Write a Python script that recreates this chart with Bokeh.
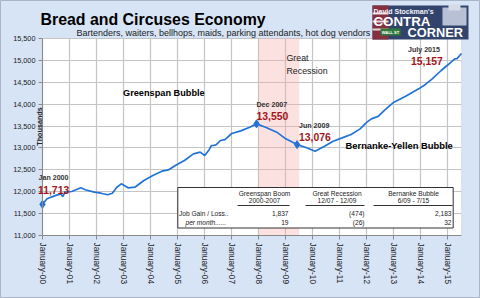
import math
from bokeh.plotting import figure
from bokeh.models import Range1d, FixedTicker, NumeralTickFormatter, Label, BoxAnnotation
from bokeh.embed import file_html
from bokeh.resources import INLINE

# ---------------- data ----------------
dates = ["2000-01", "2000-03", "2000-06", "2000-09", "2000-10", "2000-11", "2001-02", "2001-06",
         "2001-08", "2001-12", "2002-03", "2002-06", "2002-08", "2002-10", "2002-12", "2003-03",
         "2003-06", "2003-10", "2004-02", "2004-06", "2004-09", "2004-12", "2005-04", "2005-08",
         "2005-11", "2006-01", "2006-03", "2006-04", "2006-05", "2006-06", "2006-08", "2006-10",
         "2007-01", "2007-05", "2007-09", "2007-12", "2008-04", "2008-09", "2009-01", "2009-06",
         "2009-10", "2010-02", "2010-06", "2010-10", "2011-02", "2011-06", "2011-10", "2012-01",
         "2012-03", "2012-06", "2012-09", "2013-01", "2013-06", "2013-12", "2014-03", "2014-06",
         "2014-10", "2015-01", "2015-04", "2015-05", "2015-07"]
jobs = [11713, 11838, 11900, 11952, 11890, 11990, 12005, 12090,
        12044, 11990, 11966, 11930, 11966, 12103, 12180, 12090,
        12103, 12256, 12370, 12469, 12500, 12599, 12713, 12866,
        12903, 12827, 12960, 13056, 13060, 13070, 13170, 13190,
        13330, 13390, 13474, 13550, 13474, 13360, 13208, 13076,
        13010, 12926, 13033, 13154, 13230, 13307, 13436, 13590,
        13665, 13720, 13870, 14045, 14175, 14350, 14450, 14578,
        14769, 14900, 15036, 15040, 15157]

year_ticks = [2000, 2001, 2002, 2003, 2004, 2005, 2006, 2007,
              2008, 2009, 2010, 2011, 2012, 2013, 2014, 2015]
tick_labels = ["January-00", "January-01", "January-02", "January-03", "January-04",
               "January-05", "January-06", "January-07", "January-08", "January-09",
               "January-10", "January-11", "January-12", "January-13", "January-14",
               "January-15"]

recession = ("2008-01", "2009-07")

callout_dates = ["2000-01", "2007-12", "2009-06", "2015-07"]
callout_names = ["Jan 2000", "Dec 2007", "Jun 2009", "July 2015"]
callout_values = ["11,713", "13,550", "13,076", "15,157"]

table_cols = ["Greenspan Boom", "Great Recession", "Bernanke Bubble"]
table_periods = ["2000-2007", "12/07 - 12/09", "6/09 - 7/15"]
table_rows = ["Job Gain / Loss..", "per month......"]
job_gain = ["1,837", "(474)", "2,183"]
per_month = ["19", "(26)", "32"]


def month_index(s):
    y, m = s.split("-")
    return (int(y) - 2000) * 12 + int(m) - 1


ms = [month_index(d) for d in dates]
X_MAX = month_index("2015-07")

# ---------------- geometry (plot area inside a full-canvas frame) ----------------
W, H = 480, 298
FL, FT, FR, FB = 42, 38, 461, 235
FW, FH = FR - FL, FB - FT
Y0, Y1 = 11000, 15500


def X(px):
    return (px - FL) * X_MAX / FW


def Y(py):
    return Y1 - (py - FT) * (Y1 - Y0) / FH


BG = "#d7e4f6"
GRID = "#c4c4c4"
p = figure(width=W, height=H, output_backend="svg", toolbar_location=None,
           x_range=Range1d(X(0), X(W)), y_range=Range1d(Y(H), Y(0)),
           min_border_left=0, min_border_right=0, min_border_top=0, min_border_bottom=0)
p.background_fill_color = BG
p.border_fill_color = BG
p.outline_line_color = "#a9b5c6"

FONT = "Liberation Sans"

# white plot area, drawn beneath the grid
p.add_layout(BoxAnnotation(left=0, right=X_MAX, bottom=Y0, top=Y1, level="image",
                           fill_color="white", fill_alpha=1,
                           line_color=GRID, line_width=1.2))

# axes pinned at the plot-area edges
p.xaxis.fixed_location = Y0
p.yaxis.fixed_location = 0
p.xaxis.bounds = (0, X_MAX)
p.yaxis.bounds = (Y0, Y1)
p.xaxis.ticker = FixedTicker(ticks=[(y - 2000) * 12 for y in year_ticks])
p.xaxis.major_label_overrides = {(y - 2000) * 12: t for y, t in zip(year_ticks, tick_labels)}
p.xaxis.major_label_orientation = -math.pi / 2
p.yaxis.ticker = FixedTicker(ticks=list(range(Y0, Y1 + 1, 500)))
p.yaxis.formatter = NumeralTickFormatter(format="0,0")
for ax in (p.xaxis, p.yaxis):
    ax.axis_line_color = "#8a8a8a"
    ax.major_tick_line_color = "#8a8a8a"
    ax.major_tick_out = 4
    ax.major_tick_in = 0
    ax.minor_tick_line_color = None
    ax.major_label_text_font = FONT
    ax.major_label_text_color = "#222222"
    ax.major_label_standoff = 3
p.xaxis.major_label_text_font_size = "8.3px"
p.yaxis.major_label_text_font_size = "7.3px"

p.xgrid.ticker = p.xaxis.ticker
p.ygrid.ticker = p.yaxis.ticker
p.xgrid.bounds = (0, X_MAX)
p.ygrid.bounds = (Y0, Y1)
p.xgrid.cross_bounds = (Y0, Y1)
p.ygrid.cross_bounds = (0, X_MAX)
p.grid.grid_line_color = GRID
p.grid.grid_line_width = 1.2

# recession band
p.quad(left=[month_index(recession[0])], right=[month_index(recession[1])],
       bottom=[Y0], top=[Y1], fill_color="#f8b0b0", fill_alpha=0.38, line_color=None)

# series
BLUE = "#2273d6"
p.line(ms, jobs, line_color=BLUE, line_width=1.7)
mk_x = [month_index(d) for d in callout_dates[:3]]
mk_y = [jobs[dates.index(d)] for d in callout_dates[:3]]
p.scatter(mk_x, mk_y, marker="diamond", size=8, color=BLUE)


def lab(px, py, text, size, color="#222222", bold=False, italic=False,
        align="left", baseline="middle", angle=0, font=FONT):
    style = "bold" if bold else ("italic" if italic else "normal")
    p.add_layout(Label(x=X(px), y=Y(py), text=text, text_font=font,
                       text_font_size=f"{size}px", text_color=color,
                       text_font_style=style, text_align=align,
                       text_baseline=baseline, angle=angle))


def box(l, t, r, b, color, alpha=1.0):
    p.quad(left=[X(l)], right=[X(r)], top=[Y(t)], bottom=[Y(b)],
           fill_color=color, fill_alpha=alpha, line_color=None)


# logo
box(372, 5, 468, 39, "#33446c")
box(372, 5, 388, 39, "#86303f")
box(372, 12, 388, 14, "#e6d8dc")
box(372, 20, 388, 22, "#e6d8dc")
box(372, 28, 388, 30, "#e6d8dc")
box(442, 7, 466, 25, "#b7c0d4")
box(448, 4, 460, 10, "#d4dae6")
box(380, 28, 400, 35, "#2f7a3a")
lab(373, 10.5, "David Stockman's", 7.0, color="#f4f6fb", bold=True)
lab(373, 20.5, "CONTRA", 13.3, color="white", bold=True)
lab(407, 32, "CORNER", 12.8, color="white", bold=True)
lab(390, 31.5, "WALL ST", 4, color="white", bold=True, align="center")

# titles
lab(40, 19, "Bread and Circuses Economy", 15.9, color="black", bold=True)
lab(76, 32, "Bartenders, waiters, bellhops, maids, parking attendants, hot dog vendors", 9,
    color="#222222")
lab(39, 126, "Thousands", 7.2, color="#222222", bold=True, align="center", angle=math.pi / 2)

# annotations
lab(122.5, 92, "Greenspan Bubble", 9.2, color="black", bold=True)
lab(345, 145, "Bernanke-Yellen Bubble", 9.4, color="black", bold=True)
lab(286, 57.5, "Great", 8.8)
lab(286, 70.8, "Recession", 8.8)

RED = "#a3161a"
name_pos = [(38, 177), (256, 104.5), (298.5, 125.8), (407.5, 49.3)]
val_pos = [(37.5, 189.5), (256, 115.8), (298.5, 136.8), (410.5, 60)]
for (nx, ny), (vx, vy), n, v in zip(name_pos, val_pos, callout_names, callout_values):
    lab(nx, ny, n, 7.1, color="#333333", bold=True)
    lab(vx, vy, v, 10.4, color=RED, bold=True)

# table
p.quad(left=[X(177.3)], right=[X(452.7)], top=[Y(187)], bottom=[Y(227.5)],
       fill_color="white", line_color="#333333", line_width=1)
col_centers = [264, 336.5, 413]
col_rights = [288, 364, 451]
underlines = [(237, 289), (305, 364), (373, 452)]
TS = 6.6
for c, per, cx, (u0, u1) in zip(table_cols, table_periods, col_centers, underlines):
    lab(cx, 192.8, c, TS, align="center")
    lab(cx, 200.3, per, TS, align="center")
    p.line([X(u0), X(u1)], [Y(205), Y(205)], line_color="#333333", line_width=1)
lab(178.5, 212.6, table_rows[0], TS)
lab(185, 221.8, table_rows[1], TS, italic=True)
for g, pm, rx in zip(job_gain, per_month, col_rights):
    lab(rx, 212.6, g, TS, align="right")
    lab(rx, 221.8, pm, TS, align="right")

open("out.html", "w").write(file_html(p, INLINE))
